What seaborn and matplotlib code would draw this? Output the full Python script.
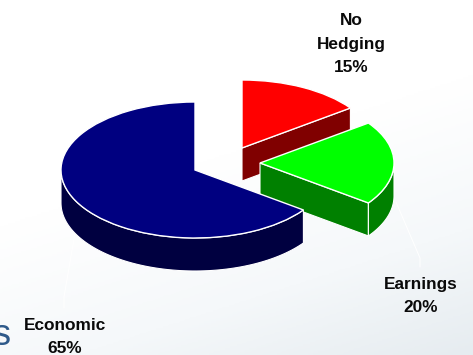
import numpy as np
import matplotlib
matplotlib.use("Agg")
import matplotlib.pyplot as plt
from matplotlib.colors import LinearSegmentedColormap
import seaborn as sns

# Hedging mix, drawn clockwise from twelve o'clock
categories = ["No\nHedging", "Earnings", "Economic"]
shares = [15, 20, 65]
top_colors = ["#ff0000", "#00ff00", "#000080"]
wall_colors = ["#800000", "#008000", "#000040"]

W, H = 473, 355
RX, RY = 134, 68
DEPTH = 33
SQUASH = RX / RY          # data units per pixel on the vertical axis

sns.set_theme(style="white")
plt.rcParams["font.family"] = ["Liberation Sans", "DejaVu Sans"]


def py(y):
    """Convert a distance from the top of the canvas to a vertical data value."""
    return (H - y) * SQUASH


fig = plt.figure(figsize=(W / 100, H / 100), dpi=100)
ax = fig.add_axes([0, 0, 1, 1])

wedges, _ = ax.pie(
    shares,
    colors=sns.color_palette(top_colors),
    startangle=90,
    counterclock=False,
    radius=RX,
    wedgeprops={"edgecolor": "white", "linewidth": 1.0},
)

ax.set_xlim(0, W)
ax.set_ylim(0, H * SQUASH)
ax.set_aspect("auto")
ax.axis("off")

# Pale page background that deepens towards the lower right corner
page = LinearSegmentedColormap.from_list(
    "page", [(0, "#ffffff"), (0.45, "#ffffff"), (0.75, "#f5f8fa"), (1, "#e6ecf0")]
)
gx, gy = np.meshgrid(np.linspace(0, 1, 200), np.linspace(0, 1, 200))
ax.imshow(
    0.3 * gx + 0.7 * gy,
    extent=(0, W, 0, H * SQUASH),
    origin="upper",
    cmap=page,
    vmin=0,
    vmax=1,
    aspect="auto",
    zorder=0,
)
ax.set_xlim(0, W)
ax.set_ylim(0, H * SQUASH)

# Pulled-apart slice centres
centers = [(242, 148), (260, 163), (195, 170)]
layers = [2, 4, 6]


def wall_polygon(cx, cy, r, a0, a1):
    """Outline of the vertical side below an arc or radial edge."""
    t = np.radians(np.linspace(a0, a1, 90))
    xs = cx + r * np.cos(t)
    ys = cy + r * np.sin(t)
    drop = DEPTH * SQUASH
    return np.r_[xs, xs[::-1]], np.r_[ys, ys[::-1] - drop]


def radial_wall(cx, cy, r, angle):
    a = np.radians(angle)
    drop = DEPTH * SQUASH
    ex, ey = cx + r * np.cos(a), cy + r * np.sin(a)
    return [cx, ex, ex, cx], [cy, ey, ey - drop, cy - drop]


for wedge, center, wall, z in zip(wedges, centers, wall_colors, layers):
    cx, cy = center[0], py(center[1])
    wedge.set_center((cx, cy))
    wedge.set_zorder(z + 1)
    # each slice shows only the sides that face the viewer
    a1, a2 = wedge.theta1, wedge.theta2
    if a2 > 0 and a1 > 0:                      # back slice: upper radial edge
        xs, ys = radial_wall(cx, cy, RX, a1)
        ax.fill(xs, ys, color=wall, ec="white", lw=0.8, zorder=z)
    elif a2 > 0:                               # right slice: lower radial plus arc
        xs, ys = radial_wall(cx, cy, RX, a1)
        ax.fill(xs, ys, color=wall, ec="white", lw=0.8, zorder=z)
        xs, ys = wall_polygon(cx, cy, RX, a1, 0)
        ax.fill(xs, ys, color=wall, ec="white", lw=0.8, zorder=z)
    else:                                      # large slice: front arc only
        xs, ys = wall_polygon(cx, cy, RX, -180, a2)
        ax.fill(xs, ys, color=wall, ec="white", lw=0.8, zorder=z)

# Faint leader lines
ax.plot([75, 64, 64], [py(233), py(297), py(308)], color="white", lw=0.7, zorder=1)
ax.plot([396, 420, 420], [py(202), py(258), py(267)], color="white", lw=0.7, zorder=1)

# Slice labels
label_xy = [(351, 44), (421, 296), (65, 337)]
for name, share, (x, y) in zip(categories, shares, label_xy):
    ax.text(
        x, py(y), f"{name}\n{share}%",
        ha="center", va="center", ma="center",
        fontsize=12.4, fontweight="bold", color="#0a0a0a",
        linespacing=1.72, zorder=10,
    )

# End of a larger heading that runs off the left edge
ax.text(11, py(345), "s", ha="right", va="baseline", fontsize=26,
        color="#2f5a8a", zorder=10)

fig.savefig("out.png", dpi=100)
